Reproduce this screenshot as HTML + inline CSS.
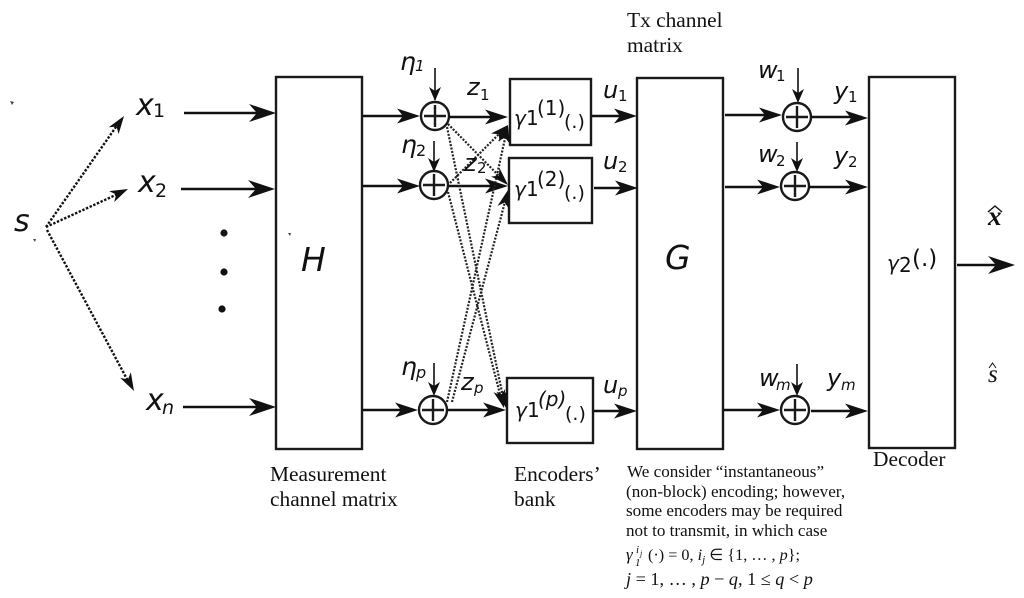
<!DOCTYPE html>
<html><head><meta charset="utf-8">
<style>
html,body{margin:0;padding:0;background:#fff;width:1024px;height:598px;overflow:hidden}
svg{display:block;filter:blur(0.35px)}
.i{font-family:"DejaVu Sans",sans-serif;font-style:italic;fill:#111}
.n{font-family:"DejaVu Sans",sans-serif;fill:#111}
.t{font-family:"Liberation Serif",serif;fill:#111}
.c{font-family:"Liberation Serif",serif;fill:#111;font-size:17.1px}
.m{font-family:"Liberation Serif",serif;font-style:italic;fill:#111}
</style></head><body>
<svg width="1024" height="598" viewBox="0 0 1024 598" xmlns="http://www.w3.org/2000/svg">
<defs>
<g id="a"><path d="M0 0L-27 -9L-19 0L-27 9Z" fill="#111"/></g>
<g id="b"><path d="M0 0L-23 -7.500L-17 0L-23 7.500Z" fill="#111"/></g>
<g id="d"><path d="M0 0L-6 -14L0 -10L6 -14Z" fill="#111"/></g>
<g id="p"><path d="M0 0L-18 -6L-13 0L-18 6Z" fill="#111"/></g>
</defs>
<g fill="none" stroke="#1a1a1a" stroke-width="2.4">
<rect x="276" y="77" width="86" height="372"/>
<rect x="637" y="78" width="86" height="371"/>
<rect x="869" y="77" width="86" height="371"/>
<rect x="510" y="79" width="81" height="66"/>
<rect x="509" y="158" width="83" height="65"/>
<rect x="507" y="378" width="86" height="65"/>
<circle cx="435" cy="116" r="14"/>
<circle cx="434" cy="185" r="14"/>
<circle cx="433" cy="410" r="14"/>
<circle cx="797" cy="117" r="14"/>
<circle cx="795" cy="186" r="14"/>
<circle cx="795" cy="410" r="14"/>
<path d="M424 116H446M435 105V127M423 185H445M434 174V196M422 410H444M433 399V421M786 117H808M797 106V128M784 186H806M795 175V197M784 410H806M795 399V421"/>
</g>
<g stroke="#111" stroke-width="2.6" fill="none">
<path d="M184 113H270M181 189H268M183 407H270"/>
<path d="M363 116H415M363 186H415M363 410H412"/>
<path d="M449 117H500M449 186H500M447 410H500"/>
<path d="M592 116H630M594 188H632M594 411H632"/>
<path d="M725 115H775M725 187H775M724 410H775"/>
<path d="M811 117H862M809 187H862M811 411H862"/>
<path d="M957 265H1010"/>
</g>
<g stroke="#111" stroke-width="1.6" fill="none">
<path d="M435 68V100M434 141V170M434 363V394M798 68V100M797 142V170M797 364V394"/>
</g>
<use href="#a" x="276" y="113"/><use href="#a" x="275" y="189"/><use href="#a" x="276" y="407"/>
<use href="#b" x="420" y="116"/><use href="#b" x="420" y="186"/><use href="#b" x="418" y="410"/>
<use href="#b" x="508" y="117"/><use href="#b" x="508" y="186"/><use href="#b" x="506" y="410"/>
<use href="#b" x="637" y="116"/><use href="#b" x="638" y="188"/><use href="#b" x="637" y="411"/>
<use href="#b" x="782" y="115"/><use href="#b" x="780" y="187"/><use href="#b" x="780" y="410"/>
<use href="#b" x="868" y="118"/><use href="#b" x="868" y="187"/><use href="#b" x="868" y="411"/>
<use href="#a" x="1015" y="265"/>
<use href="#d" x="435" y="101"/><use href="#d" x="434" y="172"/><use href="#d" x="434" y="396"/>
<use href="#d" x="798" y="103"/><use href="#d" x="797" y="172"/><use href="#d" x="797" y="396"/>
<g stroke="#111" stroke-width="2.4" fill="none" stroke-dasharray="2.4 1.6">
<path d="M46 227L118 124M46 227L120 193M47 230L128 381"/>
</g>
<use href="#p" transform="translate(124,116) rotate(-55)"/>
<use href="#p" transform="translate(128,189) rotate(-25)"/>
<use href="#p" transform="translate(134,391) rotate(62)"/>
<g stroke="#222" stroke-width="2.2" fill="none" stroke-dasharray="2 1.5">
<path d="M448 124L501 178"/>
<path d="M447 127L503 397"/>
<path d="M448 192L501 398"/>
<path d="M450 183L503 130"/>
<path d="M447 402L506 134"/>
<path d="M452 402L506 198"/>
</g>
<use href="#p" transform="translate(508,125) rotate(-45)"/>
<use href="#p" transform="translate(508,125) rotate(-77)"/>
<use href="#p" transform="translate(508,185) rotate(45)"/>
<use href="#p" transform="translate(508,190) rotate(-75)"/>
<use href="#p" transform="translate(506,408) rotate(78)"/>
<use href="#p" transform="translate(504,408) rotate(75)"/>
<circle cx="224" cy="233" r="3.6" fill="#111"/>
<circle cx="224" cy="272" r="3.6" fill="#111"/>
<circle cx="222" cy="309" r="3.6" fill="#111"/>
<text class="i" x="14" y="231" font-size="30">s</text>
<text class="i" x="136" y="115" font-size="30">x</text><text class="n" x="153" y="117" font-size="19">1</text>
<text class="i" x="138" y="192" font-size="30">x</text><text class="n" x="155" y="197" font-size="19">2</text>
<text class="i" x="146" y="410" font-size="30">x</text><text class="i" x="162" y="414" font-size="19">n</text>
<text class="i" x="301" y="271" font-size="33">H</text>
<text class="i" x="665" y="269" font-size="33">G</text>
<text class="i" x="400" y="70" font-size="25">η</text><text class="i" x="415" y="71" font-size="15">1</text>
<text class="i" x="401" y="153" font-size="25">η</text><text class="n" x="416" y="156" font-size="16">2</text>
<text class="i" x="401" y="375" font-size="25">η</text><text class="i" x="416" y="378" font-size="16">p</text>
<text class="i" x="467" y="95" font-size="24">z</text><text class="n" x="480" y="100" font-size="15">1</text>
<text class="i" x="464" y="171" font-size="24">z</text><text class="n" x="477" y="173" font-size="15">2</text>
<text class="i" x="461" y="390" font-size="24">z</text><text class="i" x="474" y="393" font-size="15">p</text>
<text class="i" x="603" y="98" font-size="24">u</text><text class="n" x="618" y="101" font-size="15">1</text>
<text class="i" x="603" y="169" font-size="24">u</text><text class="n" x="618" y="172" font-size="15">2</text>
<text class="i" x="603" y="393" font-size="24">u</text><text class="i" x="618" y="396" font-size="15">p</text>
<text class="i" x="758" y="78" font-size="24">w</text><text class="n" x="776" y="81" font-size="15">1</text>
<text class="i" x="758" y="162" font-size="24">w</text><text class="n" x="776" y="166" font-size="15">2</text>
<text class="i" x="759" y="386" font-size="24">w</text><text class="i" x="776" y="390" font-size="15">m</text>
<text class="i" x="834" y="99" font-size="24">y</text><text class="n" x="848" y="102" font-size="15">1</text>
<text class="i" x="834" y="164" font-size="24">y</text><text class="n" x="848" y="167" font-size="15">2</text>
<text class="i" x="827" y="386" font-size="24">y</text><text class="i" x="841" y="390" font-size="15">m</text>
<text class="i" x="514" y="125" font-size="20">γ</text><text class="n" x="526" y="125" font-size="20">1</text><text class="n" x="537" y="115" font-size="20">(1)</text><text class="n" x="564" y="128" font-size="19">(.)</text>
<text class="i" x="514" y="196" font-size="20">γ</text><text class="n" x="526" y="196" font-size="20">1</text><text class="n" x="537" y="186" font-size="20">(2)</text><text class="n" x="564" y="199" font-size="19">(.)</text>
<text class="i" x="515" y="417" font-size="20">γ</text><text class="n" x="527" y="417" font-size="20">1</text><text class="i" x="538" y="406" font-size="20">(p)</text><text class="n" x="565" y="420" font-size="19">(.)</text>
<text class="i" x="887" y="270" font-size="20">γ</text><text class="n" x="899" y="272" font-size="20">2</text><text class="n" x="912" y="266" font-size="23">(.)</text>
<text class="t" x="627" y="27" font-size="21.4">Tx channel</text>
<text class="t" x="627" y="52" font-size="21.4">matrix</text>
<text class="t" x="270" y="481" font-size="21.4">Measurement</text>
<text class="t" x="270" y="506" font-size="21.4">channel matrix</text>
<text class="t" x="514" y="481" font-size="21.4">Encoders’</text>
<text class="t" x="514" y="506" font-size="21.4">bank</text>
<text class="t" x="873" y="466" font-size="21.4">Decoder</text>
<text class="c" x="627" y="477">We consider “instantaneous”</text>
<text class="c" x="626" y="497">(non-block) encoding; however,</text>
<text class="c" x="626" y="516">some encoders may be required</text>
<text class="c" x="626" y="536">not to transmit, in which case</text>
<text class="m" x="626" y="560" font-size="17">γ</text><text class="m" x="635" y="566" font-size="11">1</text><text class="m" x="636" y="553" font-size="11">i</text><text class="m" x="640" y="556" font-size="8">j</text>
<text class="c" x="648" y="560" style="font-size:16.2px">(·) = 0, <tspan font-style="italic">i</tspan><tspan font-style="italic" font-size="11" dy="3">j</tspan><tspan dy="-3"> ∈ {1, … , </tspan><tspan font-style="italic">p</tspan>};</text>
<text class="c" x="626" y="585" style="font-size:18.2px"><tspan font-style="italic">j</tspan> = 1, … , <tspan font-style="italic">p</tspan> − <tspan font-style="italic">q</tspan>, 1 ≤ <tspan font-style="italic">q</tspan> &lt; <tspan font-style="italic">p</tspan></text>
<text x="988" y="225" font-family="Liberation Serif,serif" font-weight="bold" font-style="italic" font-size="27" fill="#111">x</text>
<path d="M988 212L995 206L1002 212" fill="none" stroke="#111" stroke-width="1.400"/>
<text x="988" y="382" font-family="Liberation Serif,serif" font-style="italic" font-size="25" fill="#111">s</text>
<path d="M989 368L992.500 363L996 368" fill="none" stroke="#111" stroke-width="1"/>
<path d="M10 101l4 1l-2 3zM33 239l3 0l-1 3zM288 233l3 0l-1 3z" fill="#444"/>
</svg>
</body></html>
